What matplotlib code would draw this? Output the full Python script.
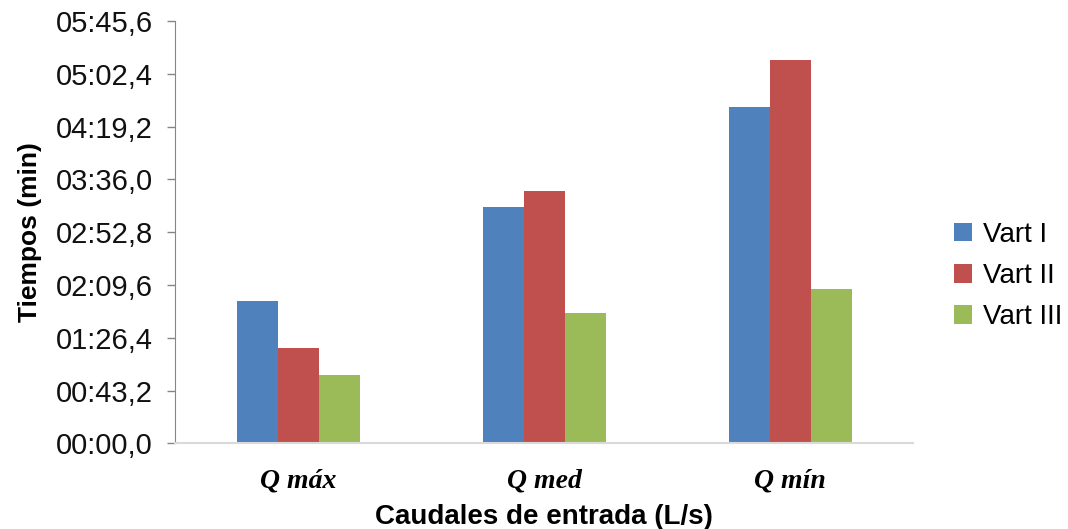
import matplotlib
matplotlib.use("Agg")
import matplotlib.pyplot as plt
from matplotlib.ticker import FixedLocator, FuncFormatter
import numpy as np

# tiempos en segundos
caudales = ["Q máx", "Q med", "Q mín"]
series = ["Vart I", "Vart II", "Vart III"]
vart1 = [116.5, 193.5, 275.0]
vart2 = [77.7, 206.5, 314.0]
vart3 = [56.0, 106.3, 126.4]
colores = ["#4F81BD", "#C0504D", "#9BBB59"]
yticks = [0, 43.2, 86.4, 129.6, 172.8, 216.0, 259.2, 302.4, 345.6]

plt.rcParams["font.family"] = ["Liberation Sans", "DejaVu Sans"]


def fmt_tiempo(v, pos=None):
    decimas = int(round(v * 10))
    m = decimas // 600
    s = (decimas - m * 600) / 10
    return f"{m:02d}:{s:04.1f}".replace(".", ",")


fig = plt.figure(figsize=(10.68, 5.29), dpi=100)
ax = fig.add_axes([0.164, 0.162, 0.691, 0.798])

x = np.arange(len(caudales))
w = 0.167
for i, (vals, nombre) in enumerate(zip([vart1, vart2, vart3], series)):
    ax.bar(x + (i - 1) * w, vals, w, color=colores[i], label=nombre,
           edgecolor="none")

ax.set_xlim(-0.5, 2.5)
ax.set_ylim(0, 345.6)
ax.yaxis.set_major_locator(FixedLocator(yticks))
ax.yaxis.set_major_formatter(FuncFormatter(fmt_tiempo))
ax.tick_params(axis="y", direction="out", length=6, width=1, color="#868686",
               labelsize=21, pad=10, labelcolor="#111111")
ax.set_xticks(x)
ax.set_xticklabels(caudales, family=["Liberation Serif", "DejaVu Serif"],
                   fontweight="bold", style="italic", fontsize=20)
ax.tick_params(axis="x", length=0, pad=18)

for s in ["top", "right"]:
    ax.spines[s].set_visible(False)
ax.spines["left"].set_color("#868686")
ax.spines["bottom"].set_color("#D9D9D9")
ax.spines["bottom"].set_linewidth(1.5)

ax.set_ylabel("Tiempos (min)", fontsize=19, fontweight="bold", labelpad=10)
ax.set_xlabel("Caudales de entrada (L/s)", fontsize=20, fontweight="bold",
              labelpad=8)

fig.legend(loc="center left", bbox_to_anchor=(0.87, 0.478), frameon=False,
           fontsize=20, handlelength=0.65, handleheight=0.65, handletextpad=0.4,
           labelspacing=0.55)

fig.savefig("out.png", dpi=100)
